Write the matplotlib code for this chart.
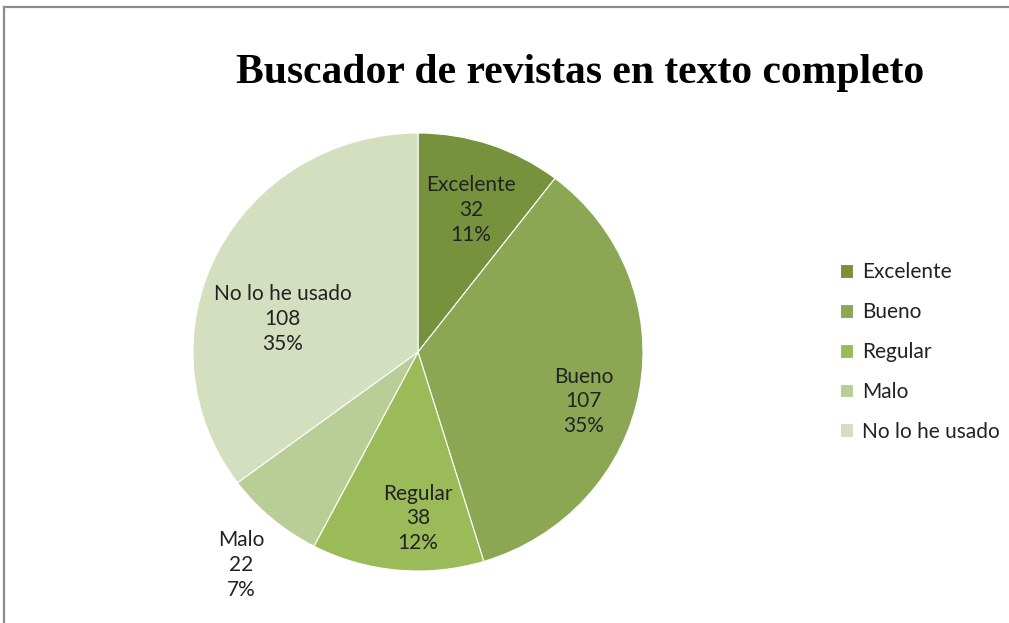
import numpy as np
import matplotlib.pyplot as plt
from matplotlib.lines import Line2D

categorias = ['Excelente', 'Bueno', 'Regular', 'Malo', 'No lo he usado']
valores = [32, 107, 38, 22, 108]
porcentajes = ['11%', '35%', '12%', '7%', '35%']
colores = ['#76923C', '#8BA753', '#9BBB59', '#B9CD96', '#D3DFBF']

# posicion de cada etiqueta: (fraccion del radio, angulo en grados)
pos_etiquetas = [(0.69, 70), (0.77, -17), (0.76, -90), (1.25, -129), (0.62, 166)]

W, H = 1009, 623
fig = plt.figure(figsize=(W / 100, H / 100), dpi=100)

# recuadro del grafico (recortado arriba a la izquierda)
fig.add_artist(Line2D([4 / W, 1], [1 - 7 / H, 1 - 7 / H], color='#8c8c8c', lw=1.6))
fig.add_artist(Line2D([4 / W, 4 / W], [0, 1 - 7 / H], color='#8c8c8c', lw=1.6))

cx, cy, rx, ry = 418, 352, 225, 219
ax = fig.add_axes([(cx - rx) / W, 1 - (cy + ry) / H, 2 * rx / W, 2 * ry / H])
wedges, _ = ax.pie(valores, colors=colores, startangle=90, counterclock=False,
                   wedgeprops=dict(linewidth=0.8, edgecolor='white'))
ax.set_aspect('auto')
ax.set_xlim(-1, 1)
ax.set_ylim(-1, 1)

fuente = 'Lato'
for cat, v, p, (r, ang) in zip(categorias, valores, porcentajes, pos_etiquetas):
    a = np.deg2rad(ang)
    ax.text(r * np.cos(a), r * np.sin(a), f'{cat}\n{v}\n{p}', ha='center', va='center',
            fontsize=15, family=fuente, color='#222222', linespacing=1.3)

fig.text(580 / W, 1 - 73 / H, 'Buscador de revistas en texto completo', ha='center', va='center',
         fontsize=30, fontweight='bold', family='Liberation Serif', color='black')

leg = fig.legend(wedges, categorias, loc='center left', bbox_to_anchor=(821 / W, 1 - 352 / H),
                 frameon=False, prop={'family': fuente, 'size': 15}, labelspacing=0.95,
                 handlelength=0.65, handleheight=0.65, handletextpad=0.4)
for t in leg.get_texts():
    t.set_color('#222222')

fig.savefig('out.png', dpi=100)
